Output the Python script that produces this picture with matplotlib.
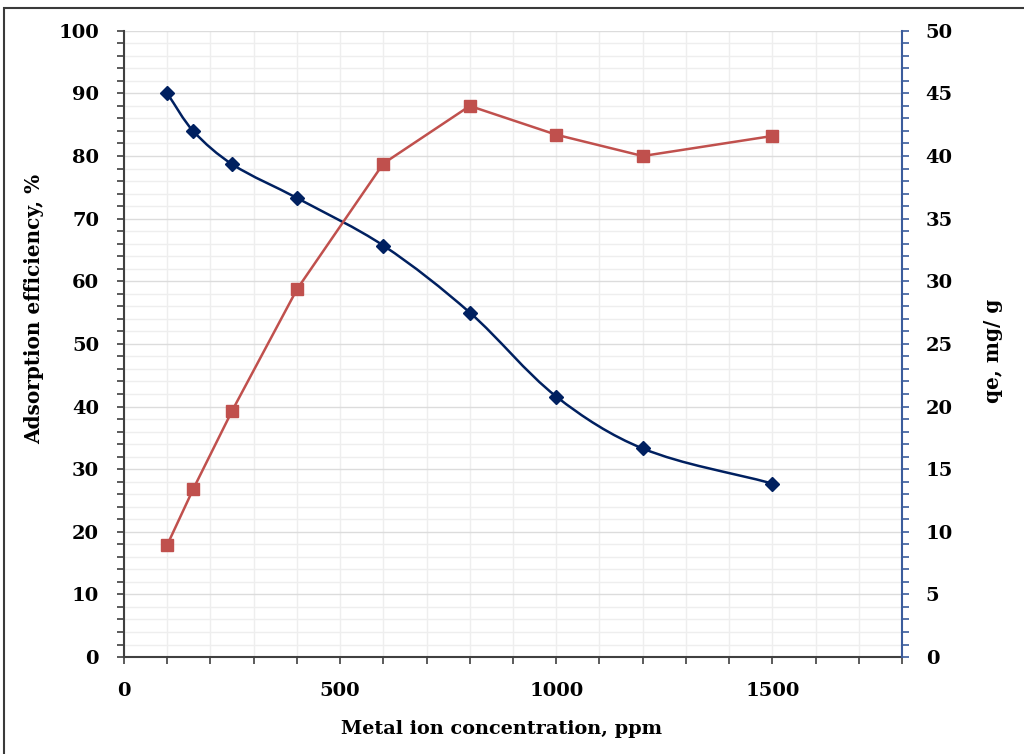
import numpy as np
import matplotlib
matplotlib.use("Agg")
import matplotlib.pyplot as plt
from matplotlib.path import Path
from matplotlib.patches import PathPatch, Rectangle
from matplotlib.ticker import MultipleLocator

# metal ion concentration, ppm
conc = [100, 160, 250, 400, 600, 800, 1000, 1200, 1500]
# adsorption efficiency, % (left axis)
efficiency = [90.0, 84.0, 78.7, 73.3, 65.7, 55.0, 41.6, 33.3, 27.7]
# qe, mg/g (right axis)
qe = [8.95, 13.4, 19.65, 29.35, 39.4, 44.0, 41.7, 40.0, 41.6]

BLUE = "#002060"
RED = "#C0504D"
AXIS_BLUE = "#3B5C9C"
GRID_MAJOR = "#DCDCDC"
GRID_MINOR = "#EEEEEE"

plt.rcParams["font.family"] = "DejaVu Serif"
plt.rcParams["font.weight"] = "bold"


def smooth_path(ax, xs, ys):
    """Smoothed line through the points, built as Bezier segments in screen space."""
    pts = ax.transData.transform(np.column_stack([xs, ys]).astype(float))
    n = len(pts)
    tangents = []
    for i in range(n):
        a = pts[max(i - 1, 0)]
        b = pts[min(i + 1, n - 1)]
        d = b - a
        tangents.append(d / (np.linalg.norm(d) + 1e-12))
    verts = [pts[0]]
    codes = [Path.MOVETO]
    for i in range(n - 1):
        seg = np.linalg.norm(pts[i + 1] - pts[i]) / 3.0
        verts += [pts[i] + tangents[i] * seg, pts[i + 1] - tangents[i + 1] * seg, pts[i + 1]]
        codes += [Path.CURVE4] * 3
    verts = ax.transData.inverted().transform(np.array(verts))
    return Path(verts, codes)


def main():
    fig = plt.figure(figsize=(10.24, 7.54), dpi=100)
    ax = fig.add_axes([0.1211, 0.1286, 0.7598, 0.8306])
    ax2 = ax.twinx()

    # outer frame of the picture
    fig.patches.append(Rectangle((0.004, -0.05), 1.2, 1.039, transform=fig.transFigure,
                                 fill=False, edgecolor="#3A3A3A", linewidth=1.5))

    ax.set_xlim(0, 1800)
    ax.set_ylim(0, 100)
    ax2.set_ylim(0, 50)

    ax.xaxis.set_major_locator(MultipleLocator(500))
    ax.xaxis.set_minor_locator(MultipleLocator(100))
    ax.yaxis.set_major_locator(MultipleLocator(10))
    ax.yaxis.set_minor_locator(MultipleLocator(2))
    ax2.yaxis.set_major_locator(MultipleLocator(5))
    ax2.yaxis.set_minor_locator(MultipleLocator(1))

    ax.grid(which="major", axis="y", color=GRID_MAJOR, linewidth=1.0)
    ax.grid(which="minor", axis="y", color=GRID_MINOR, linewidth=1.0)
    ax.grid(which="both", axis="x", color=GRID_MINOR, linewidth=1.0)
    ax.set_axisbelow(True)

    for s in ["top", "right"]:
        ax.spines[s].set_visible(False)
    ax2.spines["top"].set_visible(False)
    ax2.spines["left"].set_visible(False)
    ax2.spines["bottom"].set_visible(False)
    ax2.spines["right"].set_color(AXIS_BLUE)
    ax2.spines["right"].set_linewidth(1.5)
    ax.spines["left"].set_color("#404040")
    ax.spines["bottom"].set_color("#404040")
    ax.spines["left"].set_linewidth(1.5)
    ax.spines["bottom"].set_linewidth(1.5)

    ax.tick_params(axis="x", which="both", direction="out", length=5, width=1.2,
                   color="#404040", pad=13, labelsize=14)
    ax.tick_params(axis="y", which="both", direction="out", length=5, width=1.2,
                   color="#404040", pad=13, labelsize=14)
    ax2.tick_params(axis="y", which="both", direction="out", length=5, width=1.2,
                    color=AXIS_BLUE, pad=12, labelsize=14)

    # efficiency, smoothed line with diamonds
    ax.add_patch(PathPatch(smooth_path(ax, conc, efficiency), facecolor="none",
                           edgecolor=BLUE, linewidth=1.8, zorder=3))
    ax.plot(conc, efficiency, linestyle="none", marker="D", markersize=7,
            color=BLUE, zorder=4)

    # qe, straight line with squares
    ax2.plot(conc, qe, color=RED, linewidth=1.8, marker="s", markersize=8,
             zorder=3)

    fig.text(0.033, 0.59, "Adsorption efficiency, %", rotation=90,
             ha="center", va="center", fontsize=14.4, fontweight="bold")
    fig.text(0.97, 0.535, "qe, mg/ g", rotation=90,
             ha="center", va="center", fontsize=14.4, fontweight="bold")
    fig.text(0.49, 0.033, "Metal ion concentration, ppm",
             ha="center", va="center", fontsize=13.9, fontweight="bold")

    fig.savefig("out.png", dpi=100)
    plt.close(fig)


if __name__ == "__main__":
    main()
